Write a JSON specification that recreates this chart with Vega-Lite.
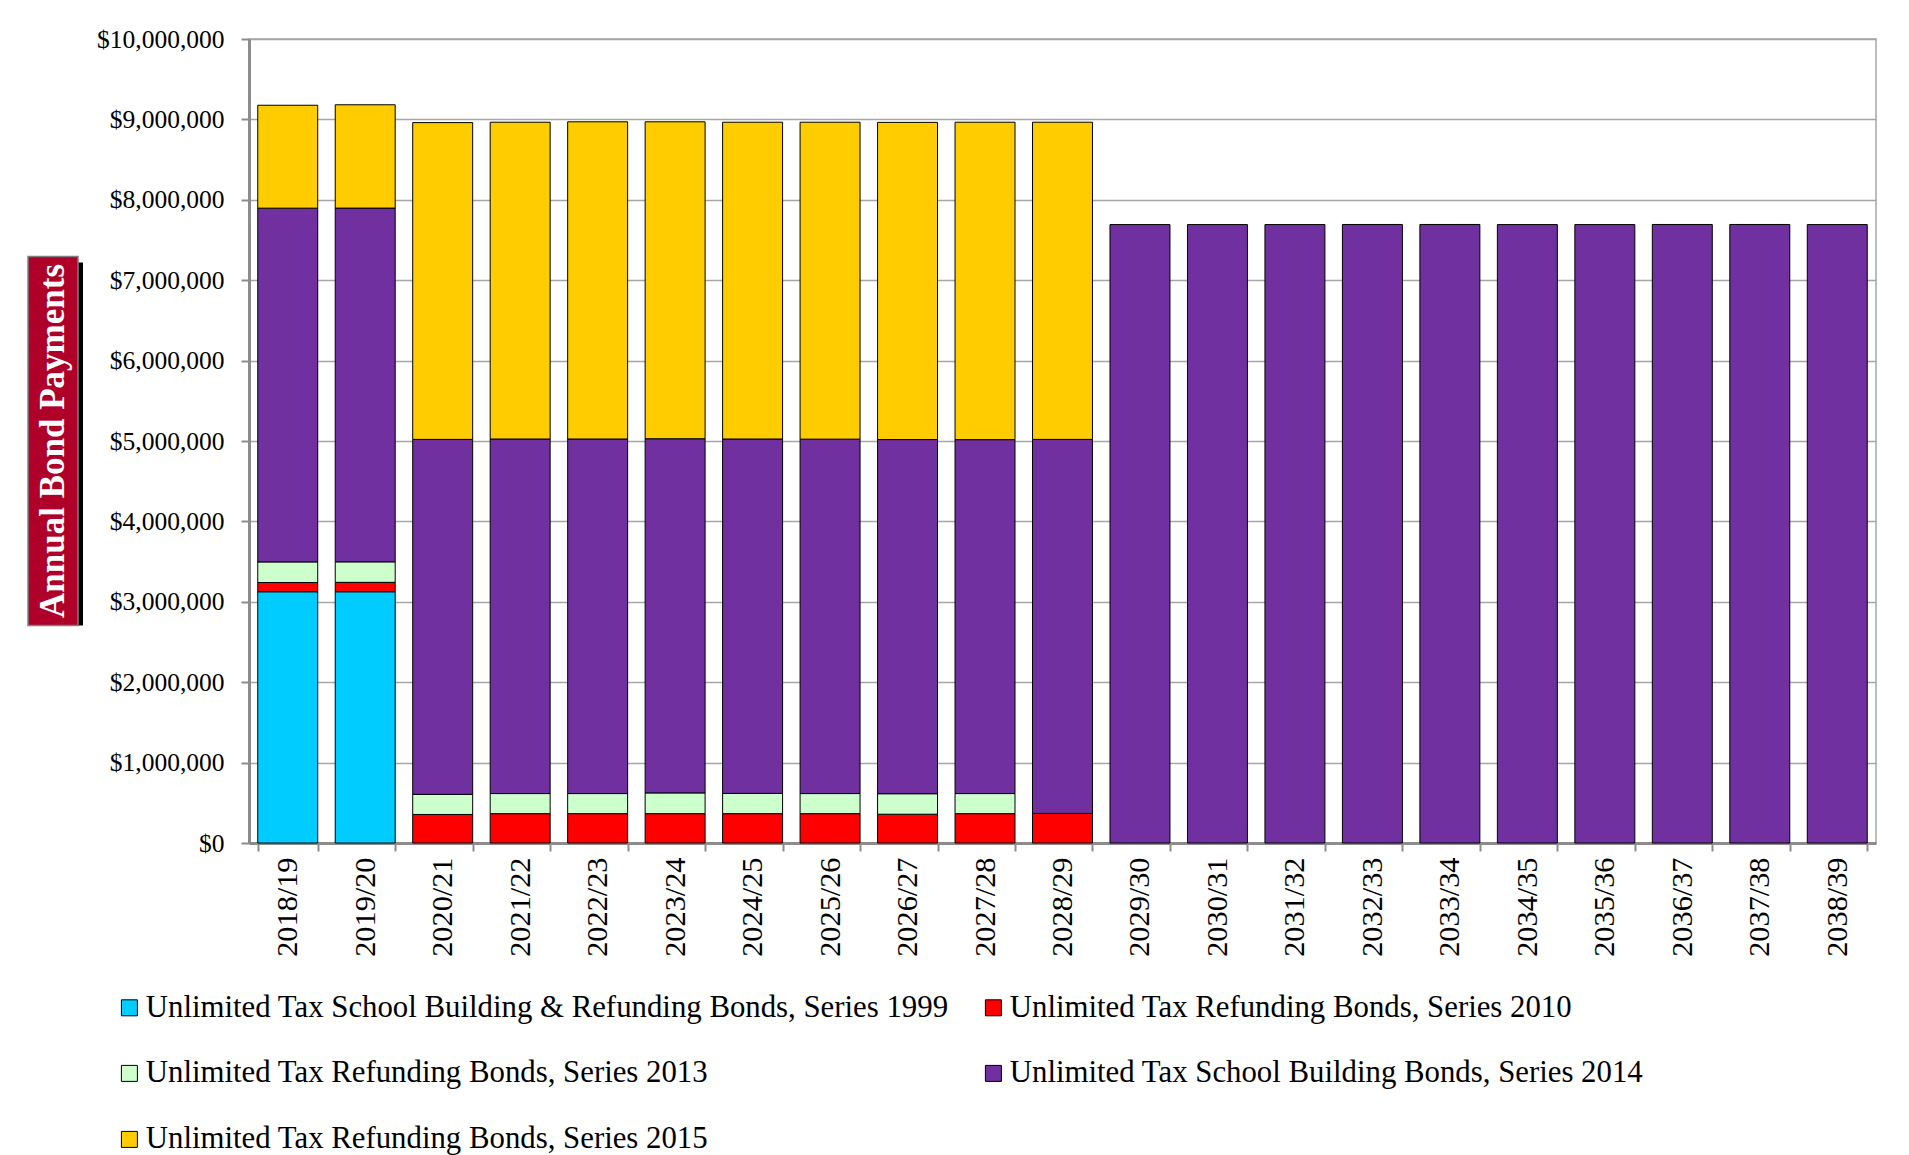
{
  "$schema": "https://vega.github.io/schema/vega-lite/v6.json",
  "background": "white",
  "padding": {"left": 27, "top": 26, "right": 0, "bottom": 0},
  "autosize": {"type": "pad"},
  "bounds": "flush",
  "center": true,
  "spacing": 171,
  "config": {
    "font": "Liberation Serif",
    "view": {"stroke": "#A6A6A6", "strokeWidth": 1.5}
  },
  "resolve": {"legend": {"color": "independent"}},
  "hconcat": [
    {
      "width": 50,
      "height": 369,
      "view": {"stroke": null},
      "data": {"values": [{"title": "Annual Bond Payments"}]},
      "layer": [
        {
          "mark": {"type": "rect", "color": "black", "xOffset": 5, "x2Offset": 5, "yOffset": 6, "y2Offset": 6},
          "encoding": {}
        },
        {
          "mark": {"type": "rect", "color": "#AE0028", "stroke": "#7F7F7F", "strokeWidth": 1.5},
          "encoding": {}
        },
        {
          "mark": {"type": "text", "angle": 270, "fontSize": 35, "fontWeight": "bold", "color": "white", "align": "center", "baseline": "middle"},
          "encoding": {"text": {"field": "title", "type": "nominal"}}
        }
      ]
    },
    {
      "width": 1627,
      "height": 804,
      "data": {
        "values": [
          {"fy": "2018/19", "series": "Unlimited Tax School Building & Refunding Bonds, Series 1999", "issue": 1999, "amount": 3125000},
          {"fy": "2018/19", "series": "Unlimited Tax Refunding Bonds, Series 2010", "issue": 2010, "amount": 115000},
          {"fy": "2018/19", "series": "Unlimited Tax Refunding Bonds, Series 2013", "issue": 2013, "amount": 256000},
          {"fy": "2018/19", "series": "Unlimited Tax School Building Bonds, Series 2014", "issue": 2014, "amount": 4400000},
          {"fy": "2018/19", "series": "Unlimited Tax Refunding Bonds, Series 2015", "issue": 2015, "amount": 1280000},
          {"fy": "2019/20", "series": "Unlimited Tax School Building & Refunding Bonds, Series 1999", "issue": 1999, "amount": 3125000},
          {"fy": "2019/20", "series": "Unlimited Tax Refunding Bonds, Series 2010", "issue": 2010, "amount": 117000},
          {"fy": "2019/20", "series": "Unlimited Tax Refunding Bonds, Series 2013", "issue": 2013, "amount": 255000},
          {"fy": "2019/20", "series": "Unlimited Tax School Building Bonds, Series 2014", "issue": 2014, "amount": 4400000},
          {"fy": "2019/20", "series": "Unlimited Tax Refunding Bonds, Series 2015", "issue": 2015, "amount": 1285000},
          {"fy": "2020/21", "series": "Unlimited Tax Refunding Bonds, Series 2010", "issue": 2010, "amount": 355000},
          {"fy": "2020/21", "series": "Unlimited Tax Refunding Bonds, Series 2013", "issue": 2013, "amount": 250000},
          {"fy": "2020/21", "series": "Unlimited Tax School Building Bonds, Series 2014", "issue": 2014, "amount": 4415000},
          {"fy": "2020/21", "series": "Unlimited Tax Refunding Bonds, Series 2015", "issue": 2015, "amount": 3940000},
          {"fy": "2021/22", "series": "Unlimited Tax Refunding Bonds, Series 2010", "issue": 2010, "amount": 365000},
          {"fy": "2021/22", "series": "Unlimited Tax Refunding Bonds, Series 2013", "issue": 2013, "amount": 250000},
          {"fy": "2021/22", "series": "Unlimited Tax School Building Bonds, Series 2014", "issue": 2014, "amount": 4410000},
          {"fy": "2021/22", "series": "Unlimited Tax Refunding Bonds, Series 2015", "issue": 2015, "amount": 3940000},
          {"fy": "2022/23", "series": "Unlimited Tax Refunding Bonds, Series 2010", "issue": 2010, "amount": 365000},
          {"fy": "2022/23", "series": "Unlimited Tax Refunding Bonds, Series 2013", "issue": 2013, "amount": 250000},
          {"fy": "2022/23", "series": "Unlimited Tax School Building Bonds, Series 2014", "issue": 2014, "amount": 4410000},
          {"fy": "2022/23", "series": "Unlimited Tax Refunding Bonds, Series 2015", "issue": 2015, "amount": 3945000},
          {"fy": "2023/24", "series": "Unlimited Tax Refunding Bonds, Series 2010", "issue": 2010, "amount": 365000},
          {"fy": "2023/24", "series": "Unlimited Tax Refunding Bonds, Series 2013", "issue": 2013, "amount": 258000},
          {"fy": "2023/24", "series": "Unlimited Tax School Building Bonds, Series 2014", "issue": 2014, "amount": 4405000},
          {"fy": "2023/24", "series": "Unlimited Tax Refunding Bonds, Series 2015", "issue": 2015, "amount": 3942000},
          {"fy": "2024/25", "series": "Unlimited Tax Refunding Bonds, Series 2010", "issue": 2010, "amount": 365000},
          {"fy": "2024/25", "series": "Unlimited Tax Refunding Bonds, Series 2013", "issue": 2013, "amount": 252000},
          {"fy": "2024/25", "series": "Unlimited Tax School Building Bonds, Series 2014", "issue": 2014, "amount": 4408000},
          {"fy": "2024/25", "series": "Unlimited Tax Refunding Bonds, Series 2015", "issue": 2015, "amount": 3940000},
          {"fy": "2025/26", "series": "Unlimited Tax Refunding Bonds, Series 2010", "issue": 2010, "amount": 365000},
          {"fy": "2025/26", "series": "Unlimited Tax Refunding Bonds, Series 2013", "issue": 2013, "amount": 250000},
          {"fy": "2025/26", "series": "Unlimited Tax School Building Bonds, Series 2014", "issue": 2014, "amount": 4408000},
          {"fy": "2025/26", "series": "Unlimited Tax Refunding Bonds, Series 2015", "issue": 2015, "amount": 3942000},
          {"fy": "2026/27", "series": "Unlimited Tax Refunding Bonds, Series 2010", "issue": 2010, "amount": 358000},
          {"fy": "2026/27", "series": "Unlimited Tax Refunding Bonds, Series 2013", "issue": 2013, "amount": 255000},
          {"fy": "2026/27", "series": "Unlimited Tax School Building Bonds, Series 2014", "issue": 2014, "amount": 4405000},
          {"fy": "2026/27", "series": "Unlimited Tax Refunding Bonds, Series 2015", "issue": 2015, "amount": 3945000},
          {"fy": "2027/28", "series": "Unlimited Tax Refunding Bonds, Series 2010", "issue": 2010, "amount": 365000},
          {"fy": "2027/28", "series": "Unlimited Tax Refunding Bonds, Series 2013", "issue": 2013, "amount": 250000},
          {"fy": "2027/28", "series": "Unlimited Tax School Building Bonds, Series 2014", "issue": 2014, "amount": 4402000},
          {"fy": "2027/28", "series": "Unlimited Tax Refunding Bonds, Series 2015", "issue": 2015, "amount": 3948000},
          {"fy": "2028/29", "series": "Unlimited Tax Refunding Bonds, Series 2010", "issue": 2010, "amount": 368000},
          {"fy": "2028/29", "series": "Unlimited Tax School Building Bonds, Series 2014", "issue": 2014, "amount": 4652000},
          {"fy": "2028/29", "series": "Unlimited Tax Refunding Bonds, Series 2015", "issue": 2015, "amount": 3945000},
          {"fy": "2029/30", "series": "Unlimited Tax School Building Bonds, Series 2014", "issue": 2014, "amount": 7692000},
          {"fy": "2030/31", "series": "Unlimited Tax School Building Bonds, Series 2014", "issue": 2014, "amount": 7692000},
          {"fy": "2031/32", "series": "Unlimited Tax School Building Bonds, Series 2014", "issue": 2014, "amount": 7692000},
          {"fy": "2032/33", "series": "Unlimited Tax School Building Bonds, Series 2014", "issue": 2014, "amount": 7693000},
          {"fy": "2033/34", "series": "Unlimited Tax School Building Bonds, Series 2014", "issue": 2014, "amount": 7693000},
          {"fy": "2034/35", "series": "Unlimited Tax School Building Bonds, Series 2014", "issue": 2014, "amount": 7692000},
          {"fy": "2035/36", "series": "Unlimited Tax School Building Bonds, Series 2014", "issue": 2014, "amount": 7692000},
          {"fy": "2036/37", "series": "Unlimited Tax School Building Bonds, Series 2014", "issue": 2014, "amount": 7693000},
          {"fy": "2037/38", "series": "Unlimited Tax School Building Bonds, Series 2014", "issue": 2014, "amount": 7693000},
          {"fy": "2038/39", "series": "Unlimited Tax School Building Bonds, Series 2014", "issue": 2014, "amount": 7692000}
        ]
      },
      "mark": {"type": "bar", "stroke": "black", "strokeWidth": 1},
      "encoding": {
        "x": {
          "field": "fy",
          "type": "ordinal",
          "scale": {"paddingInner": 0.226, "paddingOuter": 0.113},
          "axis": {
            "title": null,
            "labelAngle": 270,
            "labelFont": "Liberation Serif",
            "labelFontSize": 30.3,
            "labelColor": "black",
            "labelPadding": 6,
            "tickBand": "extent",
            "tickSize": 8,
            "tickColor": "#8C8C8C",
            "tickWidth": 2,
            "domainColor": "#8C8C8C",
            "domainWidth": 3,
            "grid": false
          }
        },
        "y": {
          "field": "amount",
          "type": "quantitative",
          "stack": "zero",
          "scale": {"domain": [0, 10000000], "nice": false},
          "axis": {
            "title": null,
            "values": [0, 1000000, 2000000, 3000000, 4000000, 5000000, 6000000, 7000000, 8000000, 9000000, 10000000],
            "format": "$,.0f",
            "labelFont": "Liberation Serif",
            "labelFontSize": 25.5,
            "labelColor": "black",
            "labelPadding": 17,
            "tickSize": 8,
            "tickColor": "#8C8C8C",
            "tickWidth": 2,
            "domainColor": "#8C8C8C",
            "domainWidth": 3,
            "grid": true,
            "gridColor": "#A6A6A6",
            "gridWidth": 1.5
          }
        },
        "color": {
          "field": "series",
          "type": "nominal",
          "scale": {
            "domain": [
              "Unlimited Tax School Building & Refunding Bonds, Series 1999",
              "Unlimited Tax Refunding Bonds, Series 2010",
              "Unlimited Tax Refunding Bonds, Series 2013",
              "Unlimited Tax School Building Bonds, Series 2014",
              "Unlimited Tax Refunding Bonds, Series 2015"
            ],
            "range": ["#00CCFF", "#FF0000", "#CCFFCC", "#7030A0", "#FFCC00"]
          },
          "legend": {
            "title": null,
            "orient": "none",
            "direction": "horizontal",
            "legendX": -135,
            "legendY": 953,
            "columns": 2,
            "padding": 0,
            "labelFont": "Liberation Serif",
            "labelFontSize": 30.8,
            "labelColor": "black",
            "labelLimit": 1000,
            "labelOffset": 1,
            "columnPadding": 29,
            "rowPadding": 34,
            "symbolType": "square",
            "symbolSize": 256,
            "symbolStrokeColor": "black",
            "symbolStrokeWidth": 1,
            "symbolOpacity": 1,
            "encode": {
              "symbols": {
                "update": {
                  "stroke": {"value": "black"},
                  "strokeWidth": {"value": 1}
                }
              }
            }
          }
        },
        "order": {"field": "issue", "type": "quantitative", "sort": "ascending"}
      }
    }
  ]
}
